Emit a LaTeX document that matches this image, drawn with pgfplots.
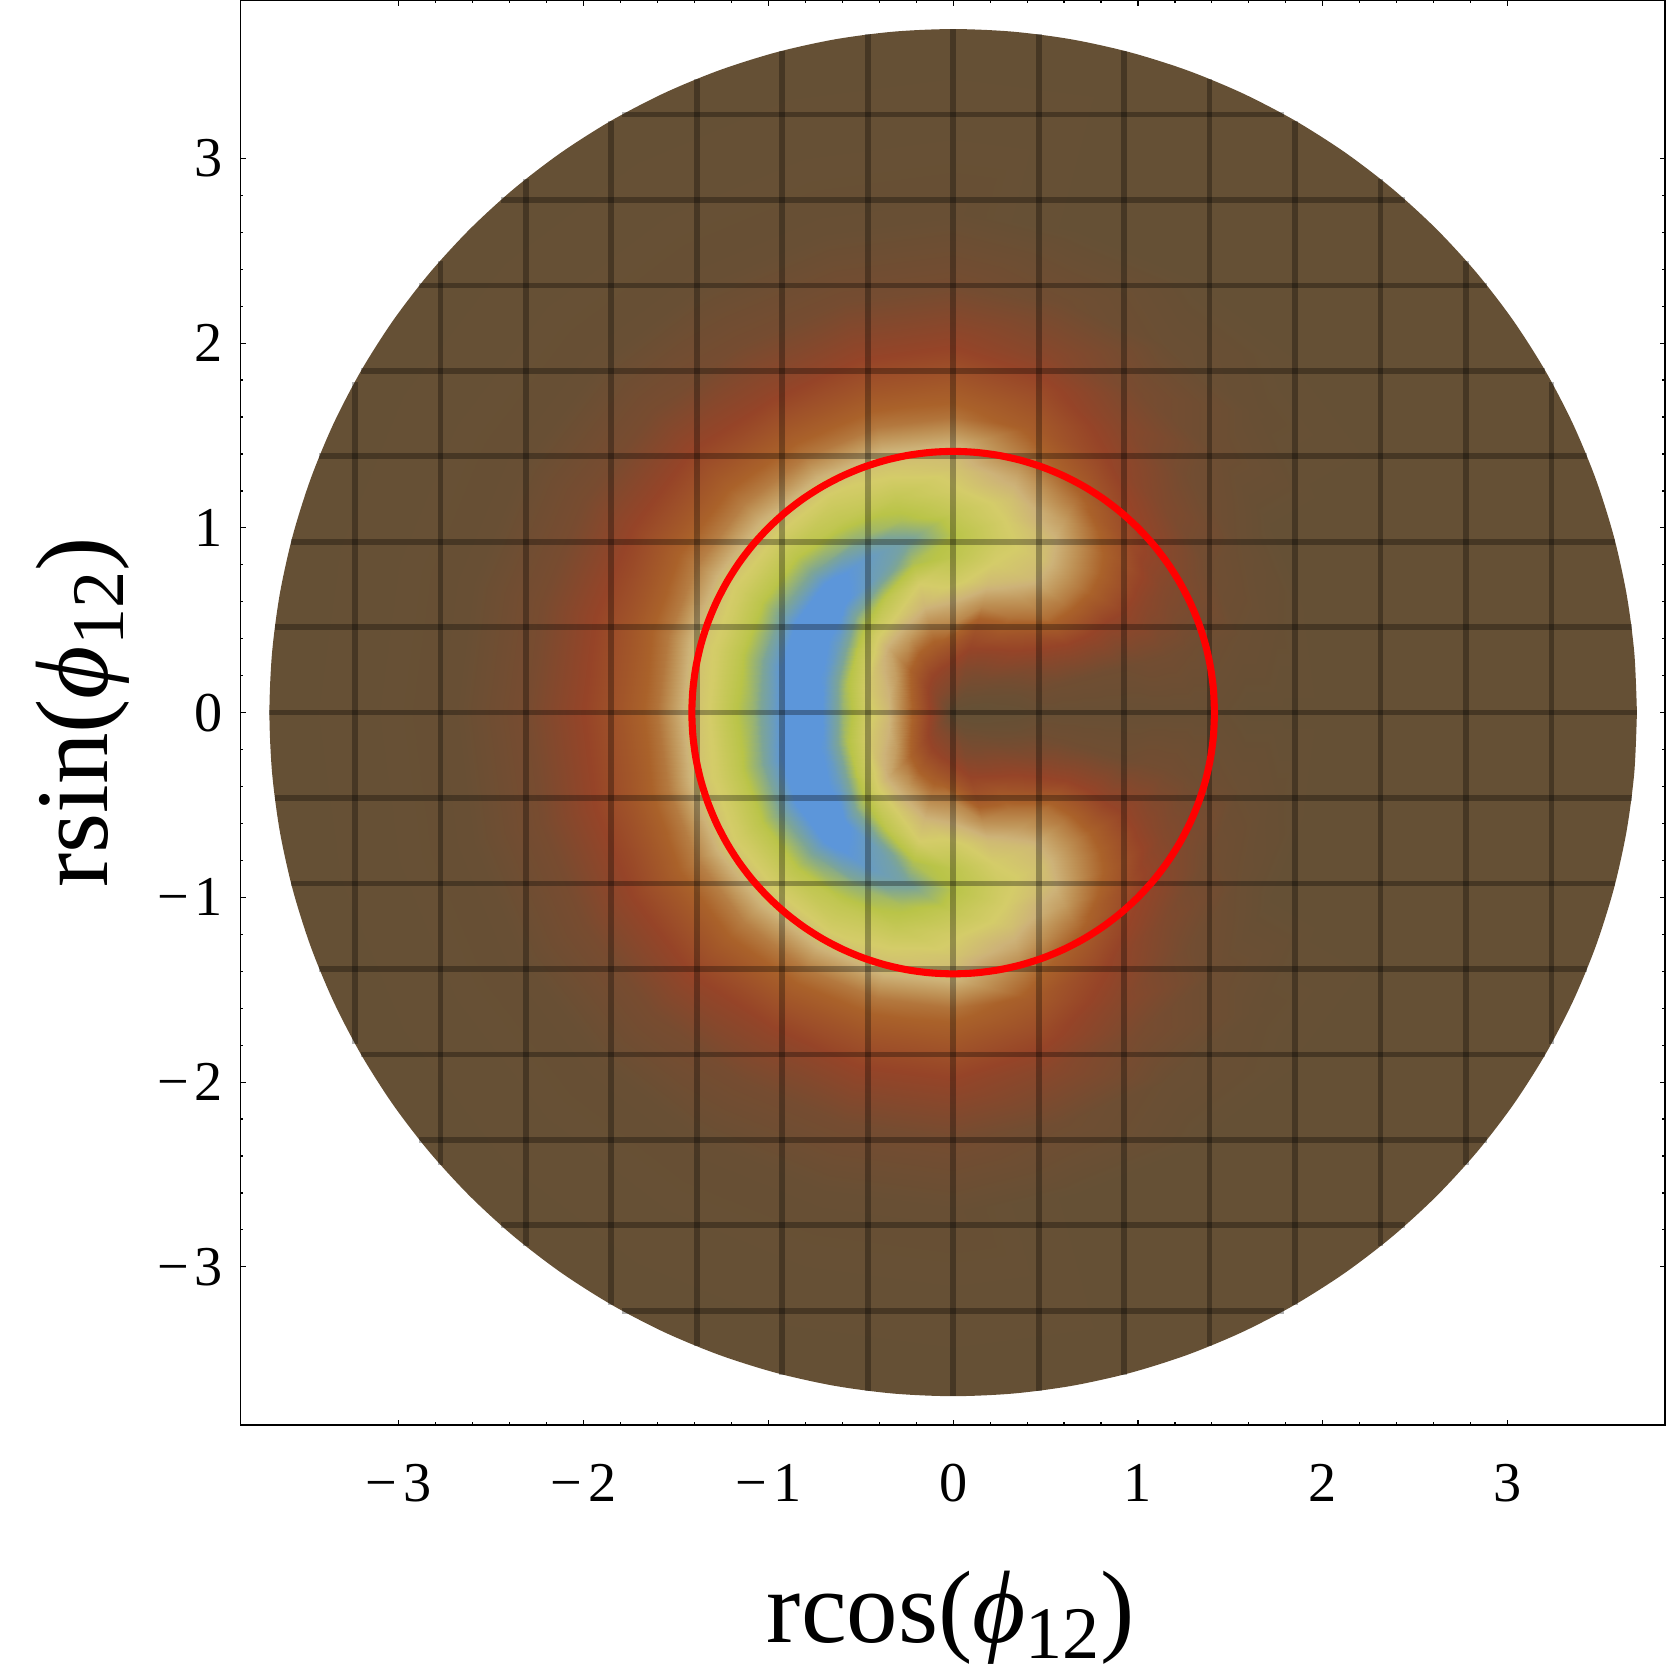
\documentclass[border=0pt]{standalone}
\usepackage{fontspec}
\setmainfont{Liberation Serif}
\usepackage{pgfplots}
\usepackage{pgfplotstable}
\pgfplotsset{compat=1.18}
\definecolor{diskbrown}{RGB}{101,80,53}

% density on a polar grid, upper half only: angle, radius, level 0-100
\pgfplotstableread[row sep=\\]{
a r v\\
0 0 0\\ 0 .12 0\\ 0 .24 0\\ 0 .36 0\\ 0 .48 1\\ 0 .6 1\\ 0 .72 1\\ 0 .84 1\\ 0 .96 1\\ 0 1.08 1\\ 0 1.2 1\\ 0 1.32 1\\ 0 1.44 1\\ 0 1.6 0\\ 0 1.8 0\\ 0 2 0\\ 0 2.3 0\\ 0 2.7 0\\ 0 3.6 0\\
15 0 0\\ 15 .12 0\\ 15 .24 1\\ 15 .36 2\\ 15 .48 4\\ 15 .6 4\\ 15 .72 4\\ 15 .84 4\\ 15 .96 4\\ 15 1.08 5\\ 15 1.2 5\\ 15 1.32 4\\ 15 1.44 3\\ 15 1.6 2\\ 15 1.8 1\\ 15 2 0\\ 15 2.3 0\\ 15 2.7 0\\ 15 3.6 0\\
30 0 0\\ 30 .12 1\\ 30 .24 3\\ 30 .36 6\\ 30 .48 10\\ 30 .6 14\\ 30 .72 17\\ 30 .84 18\\ 30 .96 17\\ 30 1.08 17\\ 30 1.2 14\\ 30 1.32 11\\ 30 1.44 9\\ 30 1.6 4\\ 30 1.8 2\\ 30 2 0\\ 30 2.3 0\\ 30 2.7 0\\ 30 3.6 0\\
45 0 0\\ 45 .12 2\\ 45 .24 6\\ 45 .36 12\\ 45 .48 18\\ 45 .6 24\\ 45 .72 32\\ 45 .84 34\\ 45 .96 34\\ 45 1.08 32\\ 45 1.2 28\\ 45 1.32 22\\ 45 1.44 17\\ 45 1.6 10\\ 45 1.8 5\\ 45 2 3\\ 45 2.3 1\\ 45 2.7 0\\ 45 3.6 0\\
60 0 0\\ 60 .12 3\\ 60 .24 8\\ 60 .36 15\\ 60 .48 24\\ 60 .6 33\\ 60 .72 40\\ 60 .84 46\\ 60 .96 47\\ 60 1.08 45\\ 60 1.2 40\\ 60 1.32 33\\ 60 1.44 26\\ 60 1.6 19\\ 60 1.8 13\\ 60 2 7\\ 60 2.3 2\\ 60 2.7 0\\ 60 3.6 0\\
75 0 0\\ 75 .12 5\\ 75 .24 10\\ 75 .36 18\\ 75 .48 25\\ 75 .6 37\\ 75 .72 46\\ 75 .84 50\\ 75 .96 52\\ 75 1.08 50\\ 75 1.2 47\\ 75 1.32 42\\ 75 1.44 35\\ 75 1.6 28\\ 75 1.8 21\\ 75 2 13\\ 75 2.3 4\\ 75 2.7 0\\ 75 3.6 0\\
90 0 0\\ 90 .12 9\\ 90 .24 15\\ 90 .36 24\\ 90 .48 36\\ 90 .6 44\\ 90 .72 52\\ 90 .84 58\\ 90 .96 60\\ 90 1.08 56\\ 90 1.2 51\\ 90 1.32 48\\ 90 1.44 45\\ 90 1.6 33\\ 90 1.8 25\\ 90 2 17\\ 90 2.3 6\\ 90 2.7 1\\ 90 3.6 0\\
105 0 0\\ 105 .12 10\\ 105 .24 17\\ 105 .36 27\\ 105 .48 36\\ 105 .6 45\\ 105 .72 50\\ 105 .84 62\\ 105 .96 72\\ 105 1.08 62\\ 105 1.2 56\\ 105 1.32 50\\ 105 1.44 46\\ 105 1.6 34\\ 105 1.8 25\\ 105 2 17\\ 105 2.3 6\\ 105 2.7 1\\ 105 3.6 0\\
120 0 0\\ 120 .12 11\\ 120 .24 19\\ 120 .36 29\\ 120 .48 40\\ 120 .6 49\\ 120 .72 58\\ 120 .84 76\\ 120 .96 80\\ 120 1.08 66\\ 120 1.2 57\\ 120 1.32 52\\ 120 1.44 46\\ 120 1.6 34\\ 120 1.8 25\\ 120 2 16\\ 120 2.3 6\\ 120 2.7 1\\ 120 3.6 0\\
135 0 0\\ 135 .12 12\\ 135 .24 22\\ 135 .36 33\\ 135 .48 42\\ 135 .6 52\\ 135 .72 66\\ 135 .84 86\\ 135 .96 88\\ 135 1.08 70\\ 135 1.2 59\\ 135 1.32 52\\ 135 1.44 46\\ 135 1.6 35\\ 135 1.8 26\\ 135 2 18\\ 135 2.3 7\\ 135 2.7 1\\ 135 3.6 0\\
150 0 0\\ 150 .12 14\\ 150 .24 27\\ 150 .36 40\\ 150 .48 47\\ 150 .6 58\\ 150 .72 78\\ 150 .84 90\\ 150 .96 88\\ 150 1.08 70\\ 150 1.2 59\\ 150 1.32 52\\ 150 1.44 47\\ 150 1.6 35\\ 150 1.8 26\\ 150 2 18\\ 150 2.3 7\\ 150 2.7 1\\ 150 3.6 0\\
165 0 0\\ 165 .12 16\\ 165 .24 31\\ 165 .36 44\\ 165 .48 50\\ 165 .6 62\\ 165 .72 82\\ 165 .84 90\\ 165 .96 84\\ 165 1.08 68\\ 165 1.2 58\\ 165 1.32 51\\ 165 1.44 47\\ 165 1.6 34\\ 165 1.8 25\\ 165 2 18\\ 165 2.3 7\\ 165 2.7 1\\ 165 3.6 0\\
180 0 0\\ 180 .12 17\\ 180 .24 32\\ 180 .36 46\\ 180 .48 53\\ 180 .6 66\\ 180 .72 86\\ 180 .84 90\\ 180 .96 80\\ 180 1.08 66\\ 180 1.2 58\\ 180 1.32 50\\ 180 1.44 46\\ 180 1.6 33\\ 180 1.8 25\\ 180 2 18\\ 180 2.3 7\\ 180 2.7 1\\ 180 3.6 0\\
}\density

\pgfplotsset{
  gridl/.style={black, opacity=0.3, line width=1.37pt, line cap=butt, forget plot},
  colormap={dens}{
    rgb255(0pt)=(101,80,53); rgb255(18pt)=(150,68,40); rgb255(30pt)=(170,98,42);
    rgb255(38pt)=(190,145,85); rgb255(44pt)=(205,178,120); rgb255(50pt)=(212,204,105);
    rgb255(60pt)=(185,196,72); rgb255(70pt)=(125,165,150); rgb255(84pt)=(92,150,218); rgb255(100pt)=(92,150,218)
  },
}
\newcommand{\mn}{−\kern1.4pt}

\begin{document}
\begin{tikzpicture}
  \begin{axis}[
    name=main, at={(0,0)}, anchor=south west,
    scale only axis, width=341.9pt, height=341.9pt,
    xmin=-3.857, xmax=3.852, ymin=-3.856, ymax=3.855,
    xtick={-3,-2,-1,0,1,2,3}, ytick={-3,-2,-1,0,1,2,3},
    xticklabels={\mn3,\mn2,\mn1,0,1,2,3}, yticklabels={\mn3,\mn2,\mn1,0,1,2,3},
    minor tick num=4,
    tick align=inside,
    major tick length=1.3pt, minor tick length=0.7pt,
    every tick/.style={black, line width=0.28pt},
    axis line style={line width=0.35pt},
    ticklabel style={font=\fontsize{13.5}{15}\selectfont},
    xticklabel style={yshift=-5.8pt},
    yticklabel style={xshift=-0.7pt},
    colormap name=dens, point meta min=0, point meta max=100,
    xlabel={rcos({\itshape ϕ}\raisebox{-3.8pt}{\fontsize{17.8}{19}\selectfont 12})},
    ylabel={rsin({\itshape ϕ}\raisebox{-3.8pt}{\fontsize{17.8}{19}\selectfont 12})},
    label style={font=\fontsize{24.7}{27}\selectfont},
    xlabel style={at={(axis description cs:0.4985,-0.153)}, anchor=base},
    ylabel style={at={(axis description cs:-0.0934,0.5)}, anchor=base},
  ]
    % base disk, so the rim stays round
    \addplot[draw=none, fill=diskbrown, smooth, data cs=polar, forget plot] coordinates {
      (0,3.7)(5,3.7)(10,3.7)(15,3.7)(20,3.7)(25,3.7)(30,3.7)(35,3.7)(40,3.7)(45,3.7)(50,3.7)(55,3.7)
      (60,3.7)(65,3.7)(70,3.7)(75,3.7)(80,3.7)(85,3.7)(90,3.7)(95,3.7)(100,3.7)(105,3.7)(110,3.7)(115,3.7)
      (120,3.7)(125,3.7)(130,3.7)(135,3.7)(140,3.7)(145,3.7)(150,3.7)(155,3.7)(160,3.7)(165,3.7)(170,3.7)(175,3.7)
      (180,3.7)(185,3.7)(190,3.7)(195,3.7)(200,3.7)(205,3.7)(210,3.7)(215,3.7)(220,3.7)(225,3.7)(230,3.7)(235,3.7)
      (240,3.7)(245,3.7)(250,3.7)(255,3.7)(260,3.7)(265,3.7)(270,3.7)(275,3.7)(280,3.7)(285,3.7)(290,3.7)(295,3.7)
      (300,3.7)(305,3.7)(310,3.7)(315,3.7)(320,3.7)(325,3.7)(330,3.7)(335,3.7)(340,3.7)(345,3.7)(350,3.7)(355,3.7)(360,3.7)
    };

    % density, upper half and its mirror image
    \addplot[surf, shader=interp, mesh/cols=19, data cs=polar, point meta=\thisrow{v}, forget plot]
      table[x=a, y=r] {\density};
    \addplot[surf, shader=interp, mesh/cols=19, data cs=polar, point meta=\thisrow{v}, forget plot]
      table[x expr=-\thisrow{a}, y=r] {\density};

    % mesh lines
    \addplot[gridl] coordinates {(-3.2375,-1.791)(-3.2375,1.791)};
    \addplot[gridl] coordinates {(-2.775,-2.447)(-2.775,2.447)};
    \addplot[gridl] coordinates {(-2.3125,-2.888)(-2.3125,2.888)};
    \addplot[gridl] coordinates {(-1.85,-3.204)(-1.85,3.204)};
    \addplot[gridl] coordinates {(-1.3875,-3.43)(-1.3875,3.43)};
    \addplot[gridl] coordinates {(-0.925,-3.583)(-0.925,3.583)};
    \addplot[gridl] coordinates {(-0.4625,-3.671)(-0.4625,3.671)};
    \addplot[gridl] coordinates {(0,-3.7)(0,3.7)};
    \addplot[gridl] coordinates {(0.4625,-3.671)(0.4625,3.671)};
    \addplot[gridl] coordinates {(0.925,-3.583)(0.925,3.583)};
    \addplot[gridl] coordinates {(1.3875,-3.43)(1.3875,3.43)};
    \addplot[gridl] coordinates {(1.85,-3.204)(1.85,3.204)};
    \addplot[gridl] coordinates {(2.3125,-2.888)(2.3125,2.888)};
    \addplot[gridl] coordinates {(2.775,-2.447)(2.775,2.447)};
    \addplot[gridl] coordinates {(3.2375,-1.791)(3.2375,1.791)};
    \addplot[gridl] coordinates {(-1.791,-3.2375)(1.791,-3.2375)};
    \addplot[gridl] coordinates {(-2.447,-2.775)(2.447,-2.775)};
    \addplot[gridl] coordinates {(-2.888,-2.3125)(2.888,-2.3125)};
    \addplot[gridl] coordinates {(-3.204,-1.85)(3.204,-1.85)};
    \addplot[gridl] coordinates {(-3.43,-1.3875)(3.43,-1.3875)};
    \addplot[gridl] coordinates {(-3.583,-0.925)(3.583,-0.925)};
    \addplot[gridl] coordinates {(-3.671,-0.4625)(3.671,-0.4625)};
    \addplot[gridl] coordinates {(-3.7,0)(3.7,0)};
    \addplot[gridl] coordinates {(-3.671,0.4625)(3.671,0.4625)};
    \addplot[gridl] coordinates {(-3.583,0.925)(3.583,0.925)};
    \addplot[gridl] coordinates {(-3.43,1.3875)(3.43,1.3875)};
    \addplot[gridl] coordinates {(-3.204,1.85)(3.204,1.85)};
    \addplot[gridl] coordinates {(-2.888,2.3125)(2.888,2.3125)};
    \addplot[gridl] coordinates {(-2.447,2.775)(2.447,2.775)};
    \addplot[gridl] coordinates {(-1.791,3.2375)(1.791,3.2375)};

    % red circle
    \addplot[red, line width=1.7pt, smooth, data cs=polar, forget plot] coordinates {
      (0,1.414)(5,1.414)(10,1.414)(15,1.414)(20,1.414)(25,1.414)(30,1.414)(35,1.414)(40,1.414)(45,1.414)(50,1.414)(55,1.414)
      (60,1.414)(65,1.414)(70,1.414)(75,1.414)(80,1.414)(85,1.414)(90,1.414)(95,1.414)(100,1.414)(105,1.414)(110,1.414)(115,1.414)
      (120,1.414)(125,1.414)(130,1.414)(135,1.414)(140,1.414)(145,1.414)(150,1.414)(155,1.414)(160,1.414)(165,1.414)(170,1.414)(175,1.414)
      (180,1.414)(185,1.414)(190,1.414)(195,1.414)(200,1.414)(205,1.414)(210,1.414)(215,1.414)(220,1.414)(225,1.414)(230,1.414)(235,1.414)
      (240,1.414)(245,1.414)(250,1.414)(255,1.414)(260,1.414)(265,1.414)(270,1.414)(275,1.414)(280,1.414)(285,1.414)(290,1.414)(295,1.414)
      (300,1.414)(305,1.414)(310,1.414)(315,1.414)(320,1.414)(325,1.414)(330,1.414)(335,1.414)(340,1.414)(345,1.414)(350,1.414)(355,1.414)(360,1.414)
    };
  \end{axis}
  \pgfresetboundingbox
  \path[use as bounding box] (-57.7pt,-60pt) rectangle (342.4pt,342pt);
\end{tikzpicture}
\end{document}
